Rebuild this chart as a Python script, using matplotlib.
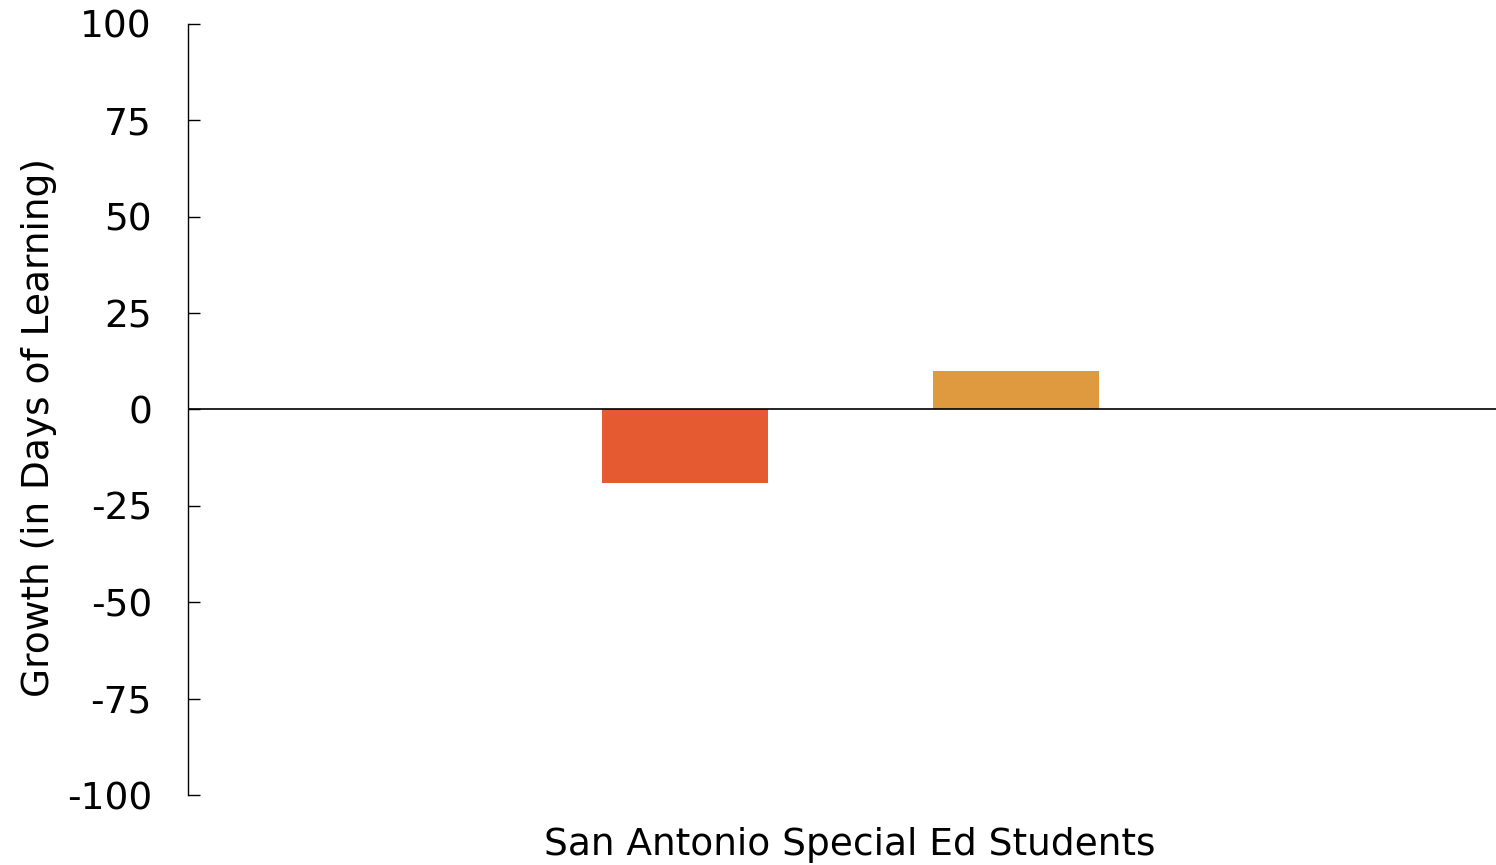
import matplotlib
matplotlib.use('Agg')
import matplotlib.pyplot as plt

plt.rcParams['font.family'] = ['DejaVu Sans']
plt.rcParams['axes.unicode_minus'] = False

# data
groups = ['Group A', 'Group B']
growth = [-19, 10]
bar_colors = ['#E65A31', '#DF993E']
yticks = [-100, -75, -50, -25, 0, 25, 50, 75, 100]

fig = plt.figure(figsize=(14.96, 8.65), dpi=100)
ax = fig.add_axes([0.1257, 0.0809, 0.8743, 0.8914])

x = list(range(len(groups)))
ax.bar(x, growth, width=0.5, color=bar_colors, zorder=2)
ax.axhline(0, color='black', lw=1.2, zorder=3)

ax.set_xlim(-1.5, 2.45)
ax.set_ylim(-100, 100)
ax.set_yticks(yticks)
ax.set_xticks([])

for s in ['top', 'right', 'bottom']:
    ax.spines[s].set_visible(False)
ax.spines['left'].set_linewidth(1.0)
ax.tick_params(axis='y', direction='in', length=8.5, width=1.0, pad=26, labelsize=27)

ax.set_xlabel('San Antonio Special Ed Students', fontsize=27)
ax.set_ylabel('Growth (in Days of Learning)', fontsize=27)
ax.xaxis.set_label_coords(0.506, -0.042)
ax.yaxis.set_label_coords(-0.1, 0.476)

fig.savefig('out.png', dpi=100)
